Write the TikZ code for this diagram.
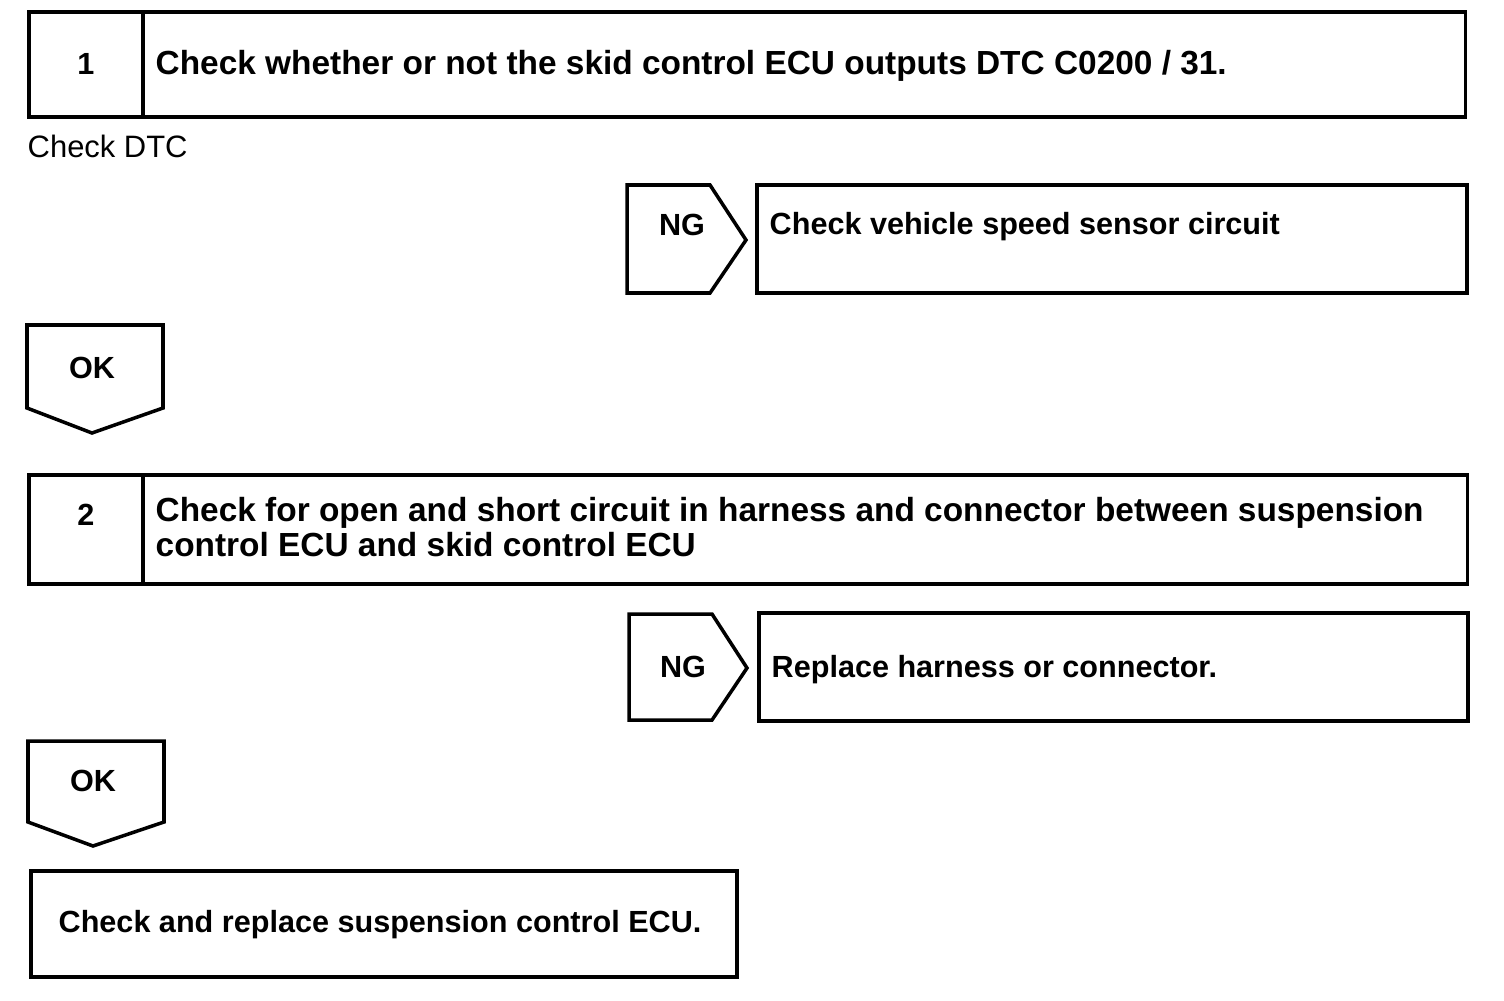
\documentclass[tikz,border=0pt]{standalone}
\usepackage{fontspec}
\setmainfont{Liberation Sans}
\usetikzlibrary{positioning}

\tikzset{
  frame/.style={draw, line width=1pt, inner sep=0pt, anchor=north west},
  tag/.style={draw, line width=1pt, line join=miter},
  label/.style={font=\bfseries\fontsize{8.7}{9.7}\selectfont, inner sep=0pt, align=left},
  steplabel/.style={label, font=\bfseries\fontsize{9.5}{9.7}\selectfont},
  note/.style={font=\fontsize{8.8}{9.7}\selectfont, inner sep=0pt}
}

\begin{document}
\begin{tikzpicture}[x=0.01cm,y=-0.01cm]
        \useasboundingbox (0,0) rectangle (1504,1000);

        % step 1
        \node[frame, minimum width=1.14cm, minimum height=1.05cm] (num1) at (27,10) {};
        \node[frame, minimum width=13.22cm, minimum height=1.05cm] (step1) at (141,10) {};
        \node[label] (n1) at (num1.center) {1};
        \node[steplabel, anchor=base west] (s1) at (155,74) {Check whether or not the skid control ECU outputs DTC C0200 / 31.};
        \node[note, anchor=base west] (dtc) at (27,157) {Check DTC};

        % NG branch of step 1
        \draw[tag] (627,185) -- (710,185) -- (746,240) -- (710,293) -- (627,293) -- cycle;
        \node[label] (ng1) at (682,225) {NG};
        \node[frame, minimum width=7.10cm, minimum height=1.08cm] (fix1) at (755,183) {};
        \node[label, anchor=base west] (f1) at (769,234) {Check vehicle speed sensor circuit};

        % OK of step 1
        \draw[tag] (27,325) -- (163,325) -- (163,408) -- (92,433) -- (27,408) -- cycle;
        \node[label] (ok1) at (92,368) {OK};

        % step 2
        \node[frame, minimum width=1.14cm, minimum height=1.09cm] (num2) at (27,473) {};
        \node[frame, minimum width=13.24cm, minimum height=1.09cm] (step2) at (141,473) {};
        \node[label] (n2) at ([yshift=0.14cm]num2.center) {2};
        \node[steplabel, anchor=base west] (s2) at (155,556) {Check for open and short circuit in harness and connector between suspension\\control ECU and skid control ECU};

        % NG branch of step 2
        \draw[tag] (629,614) -- (712,614) -- (747,668) -- (712,720) -- (629,720) -- cycle;
        \node[label] (ng2) at (683,667) {NG};
        \node[frame, minimum width=7.09cm, minimum height=1.08cm] (fix2) at (757,611) {};
        \node[label, anchor=base west] (f2) at (771,677) {Replace harness or connector.};

        % OK of step 2
        \draw[tag] (28,741) -- (164,741) -- (164,822) -- (93,846) -- (28,822) -- cycle;
        \node[label] (ok2) at (93,781) {OK};

        % last step
        \node[frame, minimum width=7.06cm, minimum height=1.06cm] (last) at (29,869) {};
        \node[label, anchor=base west] (l1) at (58,932) {Check and replace suspension control ECU.};
\end{tikzpicture}
\end{document}
